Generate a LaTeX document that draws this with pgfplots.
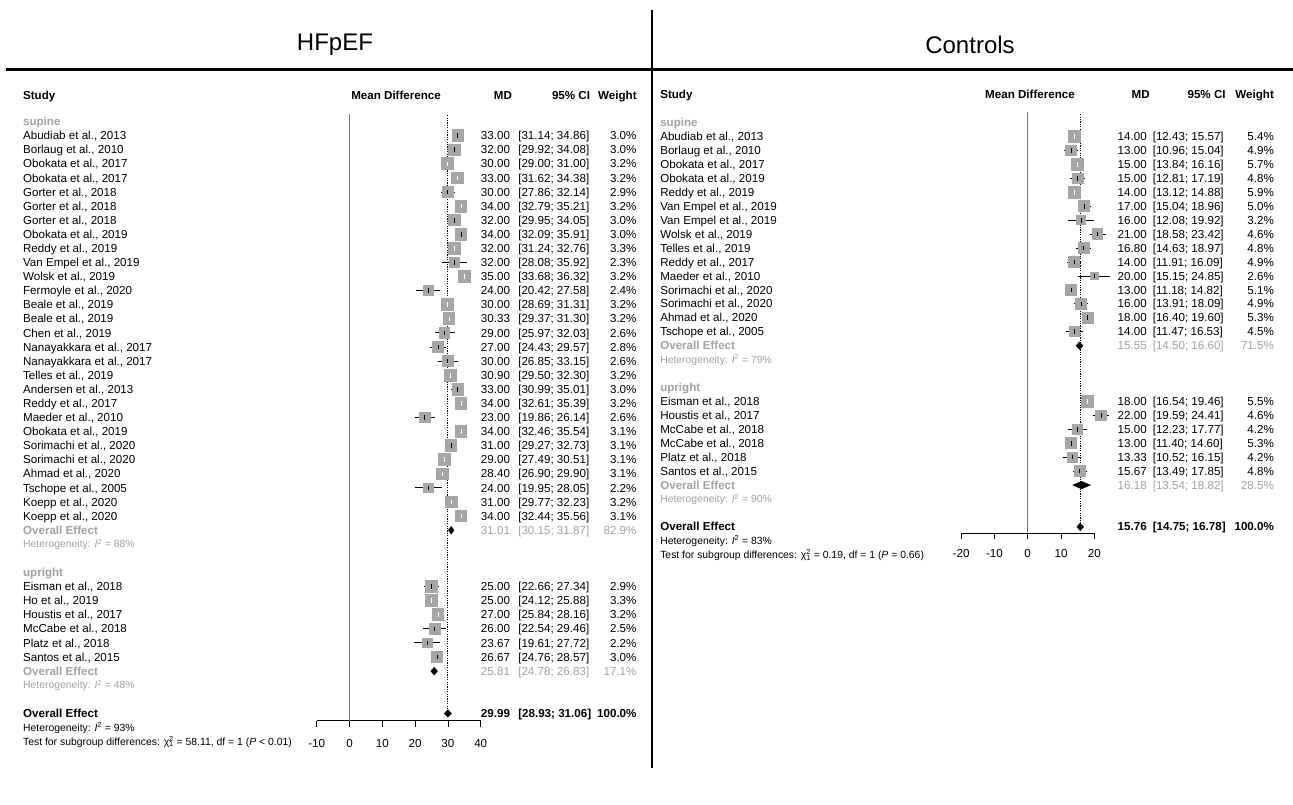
\documentclass[border=0pt]{standalone}
\usepackage{pgfplots}
\pgfplotsset{compat=1.18}
\usepackage{fontspec}
\setmainfont{Liberation Sans}
\definecolor{boxgray}{HTML}{A6A6A6}
\definecolor{txtgray}{HTML}{A3A3A3}
\definecolor{refgray}{HTML}{777777}
\newcommand\fs{\fontsize{11.6}{13}\selectfont}
\newcommand\fh{\fontsize{10.4}{12}\selectfont}
\tikzset{
  txt/.style={font=\fs, inner sep=0pt, yshift=-4.1pt},
  txh/.style={font=\fh, inner sep=0pt, yshift=-3.7pt},
}
% study rows: row, name, MD, lower, upper, weight (%), colour of the CI line
\newcommand\LS[7]{%
  \addplot[only marks, mark=square*, mark size={3.3*sqrt(#6)}, mark options={fill=boxgray, draw=boxgray, line width=0pt}] coordinates {(#3,-#1)};
  \addplot[#7, line width=0.9pt] coordinates {(#4,-#1) (#5,-#1)};
  \addplot[#7, only marks, mark=|, mark size=2.3pt, mark options={line width=0.9pt}] coordinates {(#3,-#1)};
  \node[txt, anchor=base west] at (axis cs:-99.57,-#1) {#2};
  \node[txt, anchor=base east] at (axis cs:49.0,-#1) {#3};
  \node[txt, anchor=base west] at (axis cs:51.4,-#1) {[#4; #5]};
  \node[txt, anchor=base east] at (axis cs:87.56,-#1) {#6\%};
}
\newcommand\LT[5]{%
  \node[txt, #5, anchor=base east] at (axis cs:49.0,-#1) {#2};
  \node[txt, #5, anchor=base west] at (axis cs:51.4,-#1) {#3};
  \node[txt, #5, anchor=base east] at (axis cs:87.56,-#1) {#4};
}
\newcommand\RS[7]{%
  \addplot[only marks, mark=square*, mark size={2.45*sqrt(#6)}, mark options={fill=boxgray, draw=boxgray, line width=0pt}] coordinates {(#3,-#1)};
  \addplot[#7, line width=0.9pt] coordinates {(#4,-#1) (#5,-#1)};
  \addplot[#7, only marks, mark=|, mark size=2.3pt, mark options={line width=0.9pt}] coordinates {(#3,-#1)};
  \node[txt, anchor=base west] at (axis cs:-110.4,-#1) {#2};
  \node[txt, anchor=base east] at (axis cs:35.8,-#1) {#3};
  \node[txt, anchor=base west] at (axis cs:37.5,-#1) {[#4; #5]};
  \node[txt, anchor=base east] at (axis cs:74.0,-#1) {#6\%};
}
\newcommand\RT[5]{%
  \node[txt, #5, anchor=base east] at (axis cs:35.8,-#1) {#2};
  \node[txt, #5, anchor=base west] at (axis cs:37.5,-#1) {#3};
  \node[txt, #5, anchor=base east] at (axis cs:74.0,-#1) {#4};
}
\begin{document}
\begin{tikzpicture}
\path[use as bounding box] (0pt,0pt) rectangle (1293pt,-805pt);
\fill[white] (0pt,0pt) rectangle (1293pt,-805pt);
\node[font=\fontsize{24}{28}\selectfont] at (335pt,-45pt) {HFpEF};
\node[font=\fontsize{24}{28}\selectfont] at (970pt,-45pt) {Controls};
\draw[line width=3.5pt] (6pt,-69.5pt) -- (1293pt,-69.5pt);
\draw[line width=1.8pt] (652.3pt,-10pt) -- (652.3pt,-768pt);

% ---------------- HFpEF ----------------
\begin{axis}[
  at={(316.7pt,-720.7pt)}, anchor=south west,
  x=3.28pt, y=14.09pt,
  xmin=-10, xmax=40, ymin=-41.52, ymax=3,
  axis x line=bottom, axis y line=none,
  axis line style={-, line width=0.8pt},
  xtick={-10,0,10,20,30,40}, xticklabels={,,,,,,,},
  tick align=outside, major tick length=6pt,
  tick style={black, line width=0.8pt},
  clip=false,
]
\addplot[refgray, line width=1.3pt] coordinates {(0,1.52) (0,-41.52)};
\addplot[black, line width=0.8pt, dash pattern=on 1.2pt off 1.2pt] coordinates {(29.99,1.45) (29.99,-41)};

\node[txt, font=\fs\bfseries, anchor=base west] at (axis cs:-99.57,2.89) {Study};
\node[txt, font=\fs\bfseries, anchor=base] at (axis cs:14.2,2.89) {Mean Difference};
\node[txt, font=\fs\bfseries, anchor=base east] at (axis cs:49.6,2.89) {MD};
\node[txt, font=\fs\bfseries, anchor=base east] at (axis cs:73.4,2.89) {95\% CI};
\node[txt, font=\fs\bfseries, anchor=base east] at (axis cs:87.6,2.89) {Weight};

\node[txt, font=\fs\bfseries, text=txtgray, anchor=base west] at (axis cs:-99.57,1) {supine};
\LS{0}{Abudiab et al., 2013}{33.00}{31.14}{34.86}{3.0}{black}
\LS{1}{Borlaug et al., 2010}{32.00}{29.92}{34.08}{3.0}{black}
\LS{2}{Obokata et al., 2017}{30.00}{29.00}{31.00}{3.2}{white}
\LS{3}{Obokata et al., 2017}{33.00}{31.62}{34.38}{3.2}{white}
\LS{4}{Gorter et al., 2018}{30.00}{27.86}{32.14}{2.9}{black}
\LS{5}{Gorter et al., 2018}{34.00}{32.79}{35.21}{3.2}{white}
\LS{6}{Gorter et al., 2018}{32.00}{29.95}{34.05}{3.0}{black}
\LS{7}{Obokata et al., 2019}{34.00}{32.09}{35.91}{3.0}{black}
\LS{8}{Reddy et al., 2019}{32.00}{31.24}{32.76}{3.3}{white}
\LS{9}{Van Empel et al., 2019}{32.00}{28.08}{35.92}{2.3}{black}
\LS{10}{Wolsk et al., 2019}{35.00}{33.68}{36.32}{3.2}{white}
\LS{11}{Fermoyle et al., 2020}{24.00}{20.42}{27.58}{2.4}{black}
\LS{12}{Beale et al., 2019}{30.00}{28.69}{31.31}{3.2}{white}
\LS{13}{Beale et al., 2019}{30.33}{29.37}{31.30}{3.2}{white}
\LS{14}{Chen et al., 2019}{29.00}{25.97}{32.03}{2.6}{black}
\LS{15}{Nanayakkara et al., 2017}{27.00}{24.43}{29.57}{2.8}{black}
\LS{16}{Nanayakkara et al., 2017}{30.00}{26.85}{33.15}{2.6}{black}
\LS{17}{Telles et al., 2019}{30.90}{29.50}{32.30}{3.2}{white}
\LS{18}{Andersen et al., 2013}{33.00}{30.99}{35.01}{3.0}{black}
\LS{19}{Reddy et al., 2017}{34.00}{32.61}{35.39}{3.2}{white}
\LS{20}{Maeder et al., 2010}{23.00}{19.86}{26.14}{2.6}{black}
\LS{21}{Obokata et al., 2019}{34.00}{32.46}{35.54}{3.1}{white}
\LS{22}{Sorimachi et al., 2020}{31.00}{29.27}{32.73}{3.1}{black}
\LS{23}{Sorimachi et al., 2020}{29.00}{27.49}{30.51}{3.1}{white}
\LS{24}{Ahmad et al., 2020}{28.40}{26.90}{29.90}{3.1}{white}
\LS{25}{Tschope et al., 2005}{24.00}{19.95}{28.05}{2.2}{black}
\LS{26}{Koepp et al., 2020}{31.00}{29.77}{32.23}{3.2}{white}
\LS{27}{Koepp et al., 2020}{34.00}{32.44}{35.56}{3.1}{white}
\addplot[fill=black, draw=black, line width=0.4pt] coordinates {(30.15,-28) (31.01,-27.73) (31.87,-28) (31.01,-28.27) (30.15,-28)};
\node[txt, font=\fs\bfseries, text=txtgray, anchor=base west] at (axis cs:-99.57,-28) {Overall Effect};
\LT{28}{31.01}{[30.15; 31.87]}{82.9\%}{text=txtgray}
\node[txh, text=txtgray, anchor=base west] at (axis cs:-99.57,-29) {Heterogeneity: \textit{I}\textsuperscript{2} = 88\%};

\node[txt, font=\fs\bfseries, text=txtgray, anchor=base west] at (axis cs:-99.57,-31) {upright};
\LS{32}{Eisman et al., 2018}{25.00}{22.66}{27.34}{2.9}{black}
\LS{33}{Ho et al., 2019}{25.00}{24.12}{25.88}{3.3}{white}
\LS{34}{Houstis et al., 2017}{27.00}{25.84}{28.16}{3.2}{white}
\LS{35}{McCabe et al., 2018}{26.00}{22.54}{29.46}{2.5}{black}
\LS{36}{Platz et al., 2018}{23.67}{19.61}{27.72}{2.2}{black}
\LS{37}{Santos et al., 2015}{26.67}{24.76}{28.57}{3.0}{black}
\addplot[fill=black, draw=black, line width=0.4pt] coordinates {(24.78,-38) (25.81,-37.73) (26.83,-38) (25.81,-38.27) (24.78,-38)};
\node[txt, font=\fs\bfseries, text=txtgray, anchor=base west] at (axis cs:-99.57,-38) {Overall Effect};
\LT{38}{25.81}{[24.78; 26.83]}{17.1\%}{text=txtgray}
\node[txh, text=txtgray, anchor=base west] at (axis cs:-99.57,-39) {Heterogeneity: \textit{I}\textsuperscript{2} = 48\%};

\addplot[fill=black, draw=black, line width=0.4pt] coordinates {(28.93,-41) (29.99,-40.73) (31.06,-41) (29.99,-41.27) (28.93,-41)};
\node[txt, font=\fs\bfseries, anchor=base west] at (axis cs:-99.57,-41) {Overall Effect};
\LT{41}{29.99}{[28.93; 31.06]}{100.0\%}{font=\fs\bfseries}
\node[txh, anchor=base west] at (axis cs:-99.57,-42) {Heterogeneity: \textit{I}\textsuperscript{2} = 93\%};
\node[txh, anchor=base west] at (axis cs:-99.57,-43) {Test for subgroup differences: χ\rlap{\textsuperscript{2}}\textsubscript{1} = 58.11, df = 1 (\textit{P} < 0.01)};

\node[txt, anchor=base] at (axis cs:-10,-43.1) {-10};
\node[txt, anchor=base] at (axis cs:0,-43.1) {0};
\node[txt, anchor=base] at (axis cs:10,-43.1) {10};
\node[txt, anchor=base] at (axis cs:20,-43.1) {20};
\node[txt, anchor=base] at (axis cs:30,-43.1) {30};
\node[txt, anchor=base] at (axis cs:40,-43.1) {40};
\end{axis}

% ---------------- Controls ----------------
\begin{axis}[
  at={(961.1pt,-533.3pt)}, anchor=south west,
  x=3.33pt, y=13.94pt,
  xmin=-20, xmax=20, ymin=-28.46, ymax=3,
  axis x line=bottom, axis y line=none,
  axis line style={-, line width=0.8pt},
  xtick={-20,-10,0,10,20}, xticklabels={,,,,,,},
  tick align=outside, major tick length=6pt,
  tick style={black, line width=0.8pt},
  clip=false,
]
\addplot[refgray, line width=1.3pt] coordinates {(0,1.74) (0,-28.46)};
\addplot[black, line width=0.8pt, dash pattern=on 1.2pt off 1.2pt] coordinates {(15.76,1.6) (15.76,-28)};

\node[txt, font=\fs\bfseries, anchor=base west] at (axis cs:-110.4,3.05) {Study};
\node[txt, font=\fs\bfseries, anchor=base] at (axis cs:0.7,3.05) {Mean Difference};
\node[txt, font=\fs\bfseries, anchor=base east] at (axis cs:36.7,3.05) {MD};
\node[txt, font=\fs\bfseries, anchor=base east] at (axis cs:59.5,3.05) {95\% CI};
\node[txt, font=\fs\bfseries, anchor=base east] at (axis cs:74.0,3.05) {Weight};

\node[txt, font=\fs\bfseries, text=txtgray, anchor=base west] at (axis cs:-110.4,1) {supine};
\RS{0}{Abudiab et al., 2013}{14.00}{12.43}{15.57}{5.4}{white}
\RS{1}{Borlaug et al., 2010}{13.00}{10.96}{15.04}{4.9}{black}
\RS{2}{Obokata et al., 2017}{15.00}{13.84}{16.16}{5.7}{white}
\RS{3}{Obokata et al., 2019}{15.00}{12.81}{17.19}{4.8}{black}
\RS{4}{Reddy et al., 2019}{14.00}{13.12}{14.88}{5.9}{white}
\RS{5}{Van Empel et al., 2019}{17.00}{15.04}{18.96}{5.0}{black}
\RS{6}{Van Empel et al., 2019}{16.00}{12.08}{19.92}{3.2}{black}
\RS{7}{Wolsk et al., 2019}{21.00}{18.58}{23.42}{4.6}{black}
\RS{8}{Telles et al., 2019}{16.80}{14.63}{18.97}{4.8}{black}
\RS{9}{Reddy et al., 2017}{14.00}{11.91}{16.09}{4.9}{black}
\RS{10}{Maeder et al., 2010}{20.00}{15.15}{24.85}{2.6}{black}
\RS{11}{Sorimachi et al., 2020}{13.00}{11.18}{14.82}{5.1}{black}
\RS{12}{Sorimachi et al., 2020}{16.00}{13.91}{18.09}{4.9}{black}
\RS{13}{Ahmad et al., 2020}{18.00}{16.40}{19.60}{5.3}{black}
\RS{14}{Tschope et al., 2005}{14.00}{11.47}{16.53}{4.5}{black}
\addplot[fill=black, draw=black, line width=0.4pt] coordinates {(14.50,-15) (15.55,-14.73) (16.60,-15) (15.55,-15.27) (14.50,-15)};
\node[txt, font=\fs\bfseries, text=txtgray, anchor=base west] at (axis cs:-110.4,-15) {Overall Effect};
\RT{15}{15.55}{[14.50; 16.60]}{71.5\%}{text=txtgray}
\node[txh, text=txtgray, anchor=base west] at (axis cs:-110.4,-16) {Heterogeneity: \textit{I}\textsuperscript{2} = 79\%};

\node[txt, font=\fs\bfseries, text=txtgray, anchor=base west] at (axis cs:-110.4,-18) {upright};
\RS{19}{Eisman et al., 2018}{18.00}{16.54}{19.46}{5.5}{white}
\RS{20}{Houstis et al., 2017}{22.00}{19.59}{24.41}{4.6}{black}
\RS{21}{McCabe et al., 2018}{15.00}{12.23}{17.77}{4.2}{black}
\RS{22}{McCabe et al., 2018}{13.00}{11.40}{14.60}{5.3}{black}
\RS{23}{Platz et al., 2018}{13.33}{10.52}{16.15}{4.2}{black}
\RS{24}{Santos et al., 2015}{15.67}{13.49}{17.85}{4.8}{black}
\addplot[fill=black, draw=black, line width=0.4pt] coordinates {(13.54,-25) (16.18,-24.73) (18.82,-25) (16.18,-25.27) (13.54,-25)};
\node[txt, font=\fs\bfseries, text=txtgray, anchor=base west] at (axis cs:-110.4,-25) {Overall Effect};
\RT{25}{16.18}{[13.54; 18.82]}{28.5\%}{text=txtgray}
\node[txh, text=txtgray, anchor=base west] at (axis cs:-110.4,-26) {Heterogeneity: \textit{I}\textsuperscript{2} = 90\%};

\addplot[fill=black, draw=black, line width=0.4pt] coordinates {(14.75,-28) (15.76,-27.73) (16.78,-28) (15.76,-28.27) (14.75,-28)};
\node[txt, font=\fs\bfseries, anchor=base west] at (axis cs:-110.4,-28) {Overall Effect};
\RT{28}{15.76}{[14.75; 16.78]}{100.0\%}{font=\fs\bfseries}
\node[txh, anchor=base west] at (axis cs:-110.4,-29) {Heterogeneity: \textit{I}\textsuperscript{2} = 83\%};
\node[txh, anchor=base west] at (axis cs:-110.4,-30) {Test for subgroup differences: χ\rlap{\textsuperscript{2}}\textsubscript{1} = 0.19, df = 1 (\textit{P} = 0.66)};

\node[txt, anchor=base] at (axis cs:-20,-29.88) {-20};
\node[txt, anchor=base] at (axis cs:-10,-29.88) {-10};
\node[txt, anchor=base] at (axis cs:0,-29.88) {0};
\node[txt, anchor=base] at (axis cs:10,-29.88) {10};
\node[txt, anchor=base] at (axis cs:20,-29.88) {20};
\end{axis}
\end{tikzpicture}
\end{document}
